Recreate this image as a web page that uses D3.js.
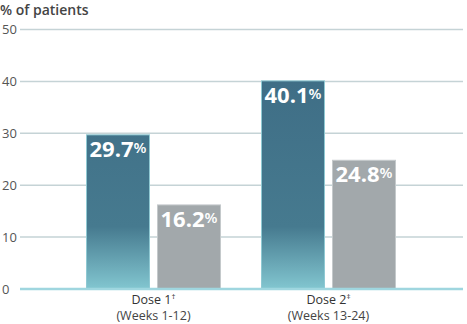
<!DOCTYPE html>
<html>
<head>
<meta charset="utf-8">
<script src="https://cdn.jsdelivr.net/npm/d3@7"></script>
<style>
  body { margin: 0; background: #fff; }
  text { font-family: "Open Sans", sans-serif; }
</style>
</head>
<body>
<svg id="chart" width="467" height="324"></svg>
<script>
const groups = ['Dose 1', 'Dose 2'];
const groupMarks = ['\u2020', '\u2021'];
const groupSubs = ['(Weeks 1-12)', '(Weeks 13-24)'];
const series = ['treated', 'comparator'];
const treatedValues = [29.7, 40.1];
const comparatorValues = [16.2, 24.8];
const yTicks = [0, 10, 20, 30, 40, 50];

const svg = d3.select('#chart');
const margin = { top: 29, left: 20, right: 4, bottom: 34 };
const width = 467;
const height = 324;

const y = d3.scaleLinear().domain([0, 50]).range([height - margin.bottom - 1, margin.top + 0.5]);
const x0 = d3.scaleBand().domain(groups).range([86, 396]).paddingInner(40 / 175);
const x1 = d3.scaleBand().domain(series).range([0, x0.bandwidth()]).paddingInner(7 / 71);

const defs = svg.append('defs');
const grad = defs.append('linearGradient')
  .attr('id', 'blueGrad')
  .attr('gradientUnits', 'userSpaceOnUse')
  .attr('x1', 0).attr('x2', 0)
  .attr('y1', y(40.1)).attr('y2', y(0));
grad.append('stop').attr('offset', '0%').attr('stop-color', '#3f6e86');
grad.append('stop').attr('offset', '70%').attr('stop-color', '#467a8f');
grad.append('stop').attr('offset', '100%').attr('stop-color', '#82c6d0');

// gridlines
svg.append('g')
  .selectAll('line')
  .data(yTicks.filter((d) => d > 0))
  .join('line')
  .attr('x1', margin.left)
  .attr('x2', width - margin.right)
  .attr('y1', (d) => y(d))
  .attr('y2', (d) => y(d))
  .style('stroke', '#c5d3d6')
  .style('stroke-width', 1.5);

// tick labels
svg.append('g')
  .selectAll('text')
  .data(yTicks)
  .join('text')
  .attr('x', 2)
  .attr('y', (d) => y(d) + 4.5)
  .style('font-size', '13px')
  .style('fill', '#555')
  .text((d) => d);

svg.append('text')
  .attr('x', 0)
  .attr('y', 15)
  .style('font-size', '14px')
  .style('font-weight', 600)
  .style('fill', '#444')
  .text('% of patients');

const rows = groups.map((g, i) => [
  { group: g, key: 'treated', value: treatedValues[i] },
  { group: g, key: 'comparator', value: comparatorValues[i] },
]).flat();

const bars = svg.append('g')
  .selectAll('g')
  .data(rows)
  .join('g')
  .attr('transform', (d) => `translate(${x0(d.group) + x1(d.key)},0)`);

bars.append('rect')
  .attr('x', 0.5)
  .attr('y', (d) => y(d.value))
  .attr('width', x1.bandwidth() - 1)
  .attr('height', (d) => y(0) - y(d.value))
  .style('fill', (d) => (d.key === 'treated' ? 'url(#blueGrad)' : '#a2a8ab'))
  .style('stroke', (d) => (d.key === 'treated' ? '#8fc9d3' : '#c4c9cb'))
  .style('stroke-width', 1);

const label = bars.append('text')
  .attr('x', x1.bandwidth() / 2)
  .attr('y', (d) => y(d.value) + 22)
  .attr('text-anchor', 'middle')
  .style('fill', '#fff')
  .style('font-weight', 700);
label.append('tspan')
  .style('font-size', '22px')
  .text((d) => d.value.toFixed(1));
label.append('tspan')
  .attr('dy', -4)
  .style('font-size', '15px')
  .style('font-weight', 600)
  .text('%');

// baseline
svg.append('line')
  .attr('x1', margin.left)
  .attr('x2', width - margin.right)
  .attr('y1', y(0))
  .attr('y2', y(0))
  .style('stroke', '#9fd6df')
  .style('stroke-width', 2.5);

const xl = svg.append('g')
  .selectAll('g')
  .data(groups)
  .join('g')
  .attr('transform', (d) => `translate(${x0(d) + x0.bandwidth() / 2},0)`);

const t1 = xl.append('text')
  .attr('y', 304)
  .attr('text-anchor', 'middle')
  .style('font-size', '12.5px')
  .style('fill', '#333');
t1.append('tspan').style('font-weight', 500).text((d) => d);
t1.append('tspan').attr('dy', -5).style('font-size', '8px').text((d, i) => groupMarks[i]);

xl.append('text')
  .attr('y', 320)
  .attr('text-anchor', 'middle')
  .style('font-size', '12.5px')
  .style('fill', '#444')
  .text((d, i) => groupSubs[i]);
</script>
</body>
</html>
